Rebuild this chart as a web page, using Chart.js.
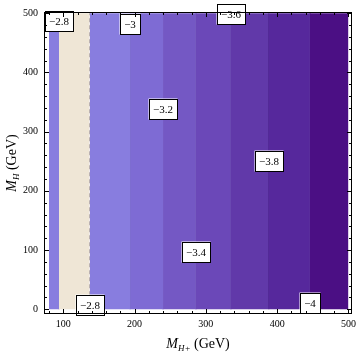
<!DOCTYPE html>
<html>
<head>
<meta charset="utf-8">
<script src="https://cdn.jsdelivr.net/npm/chart.js@4.4.1/dist/chart.umd.min.js"></script>
<style>
  html, body { margin: 0; padding: 0; background: #fff; }
  canvas { display: block; }
</style>
</head>
<body>
<canvas id="plot" width="360" height="353"></canvas>
<script>
/* ===============================
   DATA
   =============================== */
// band edges along M_H+ (GeV); the contours are vertical
const bandEdges = [80, 94, 137, 194, 240, 286, 335, 388, 446, 500];
// contour lines (M_H+ value) and their levels
const contourX = [94, 137, 194, 240, 286, 335, 388, 446];
const contourLevels = [-2.8, -2.8, -3, -3.2, -3.4, -3.6, -3.8, -4];
// where each level label sits (M_H+, M_H)
const labelText = ["\u22122.8", "\u22122.8", "\u22123", "\u22123.2", "\u22123.4", "\u22123.6", "\u22123.8", "\u22124"];
const labelX = [94, 137, 194, 240, 286, 335, 388, 446];
const labelY = [487, 7, 482, 339, 96, 499, 251, 10];
// M_H range
const mhMin = 0;
const mhMax = 500;
// axis ticks
const xTicks = [100, 200, 300, 400, 500];
const yTicks = [0, 100, 200, 300, 400, 500];
const minorStep = 20;

/* ===============================
   STYLES
   =============================== */
const bandColors = ["#887ddf", "#efe6d6", "#887ddf", "#7e6bd4", "#7458c4",
                    "#6b48b8", "#6139a9", "#56289c", "#4b0f84"];
const lineColors = ["#a39d9a", "#9a9490", "#6f60c4", "#6550b5",
                    "#5c40a6", "#533298", "#4a238c", "#3f0f75"];
const serif = "'Liberation Serif', 'DejaVu Serif', serif";

/* ===============================
   DATASETS
   =============================== */
const datasets = [];

bandColors.forEach((c, i) => {
  datasets.push({
    data: [{ x: bandEdges[i], y: mhMax }, { x: bandEdges[i + 1], y: mhMax }],
    fill: { value: mhMin },
    backgroundColor: c,
    borderWidth: 0,
    pointRadius: 0,
    tension: 0
  });
});

contourX.forEach((x, i) => {
  datasets.push({
    data: [{ x: x, y: mhMin }, { x: x, y: mhMax }],
    fill: false,
    borderColor: lineColors[i],
    borderWidth: 1.3,
    borderDash: i === 1 ? [4, 3] : [],
    pointRadius: 0
  });
});

/* ===============================
   FRAME, TICKS, LABELS
   =============================== */
const framePlugin = {
  id: "frame",
  afterDatasetsDraw(chart) {
    const ctx = chart.ctx;
    const a = chart.chartArea;
    const xs = chart.scales.x;
    const ys = chart.scales.y;

    // contour labels
    ctx.save();
    ctx.font = "11px " + serif;
    ctx.textAlign = "center";
    ctx.textBaseline = "middle";
    labelText.forEach((t, i) => {
      const px = Math.round(xs.getPixelForValue(labelX[i]));
      const py = Math.round(ys.getPixelForValue(labelY[i]));
      const w = Math.round(ctx.measureText(t).width) + 9;
      const h = 21;
      ctx.fillStyle = "#fff";
      ctx.fillRect(px - w / 2, py - h / 2, w, h);
      ctx.strokeStyle = "#000";
      ctx.lineWidth = 1;
      ctx.strokeRect(Math.round(px - w / 2) + 0.5, Math.round(py - h / 2) + 0.5, w - 1, h - 1);
      ctx.fillStyle = "#000";
      ctx.fillText(t, px, py + 1);
    });
    ctx.restore();

    // frame
    ctx.save();
    ctx.strokeStyle = "#000";
    ctx.lineWidth = 1;
    ctx.strokeRect(Math.round(a.left) + 0.5, Math.round(a.top) + 0.5,
                   Math.round(a.right - a.left) - 1, Math.round(a.bottom - a.top) - 1);

    // inward ticks on all four sides
    ctx.beginPath();
    for (let v = 80; v <= 500; v += minorStep) {
      const len = v % 100 === 0 ? 5 : 3;
      const px = Math.round(xs.getPixelForValue(v)) + 0.5;
      ctx.moveTo(px, a.bottom); ctx.lineTo(px, a.bottom - len);
      ctx.moveTo(px, a.top); ctx.lineTo(px, a.top + len);
    }
    for (let v = 0; v <= 500; v += minorStep) {
      const len = v % 100 === 0 ? 5 : 3;
      const py = Math.round(ys.getPixelForValue(v)) + 0.5;
      ctx.moveTo(a.left, py); ctx.lineTo(a.left + len, py);
      ctx.moveTo(a.right, py); ctx.lineTo(a.right - len, py);
    }
    ctx.stroke();
    ctx.restore();

    // axis titles with subscripts
    ctx.save();
    ctx.fillStyle = "#000";
    ctx.textBaseline = "alphabetic";
    const drawTitle = (parts) => {
      let total = 0;
      parts.forEach(p => { ctx.font = p.font; total += ctx.measureText(p.t).width; });
      let x = -total / 2;
      parts.forEach(p => {
        ctx.font = p.font;
        ctx.fillText(p.t, x, p.dy || 0);
        x += ctx.measureText(p.t).width;
      });
    };
    const cx = (a.left + a.right) / 2;
    const cy = (a.top + a.bottom) / 2;
    ctx.translate(cx, 348);
    drawTitle([
      { t: "M", font: "italic 14px " + serif },
      { t: "H+", font: "italic 9px " + serif, dy: 3 },
      { t: " (GeV)", font: "14px " + serif }
    ]);
    ctx.setTransform(1, 0, 0, 1, 0, 0);
    ctx.translate(16, cy);
    ctx.rotate(-Math.PI / 2);
    drawTitle([
      { t: "M", font: "italic 14px " + serif },
      { t: "H", font: "italic 9px " + serif, dy: 3 },
      { t: " (GeV)", font: "14px " + serif }
    ]);
    ctx.restore();
  }
};

/* ===============================
   CHART
   =============================== */
new Chart(document.getElementById("plot"), {
  type: "line",
  data: { datasets },
  options: {
    responsive: false,
    animation: false,
    layout: { padding: { left: 0, right: 5, top: 5, bottom: 0 } },
    plugins: {
      legend: { display: false },
      tooltip: { enabled: false }
    },
    scales: {
      x: {
        type: "linear",
        min: 73,
        max: 505,
        border: { display: false },
        grid: { display: false, drawTicks: false },
        afterBuildTicks: s => { s.ticks = xTicks.map(v => ({ value: v })); },
        afterFit: s => { s.height = 39; },
        ticks: {
          autoSkip: false,
          maxRotation: 0,
          padding: 4,
          color: "#000",
          font: { family: serif, size: 10 }
        }
      },
      y: {
        type: "linear",
        min: -8,
        max: 502,
        border: { display: false },
        grid: { display: false, drawTicks: false },
        afterBuildTicks: s => { s.ticks = yTicks.map(v => ({ value: v })); },
        afterFit: s => { s.width = 44; },
        ticks: {
          autoSkip: false,
          padding: 6,
          color: "#000",
          font: { family: serif, size: 10 }
        }
      }
    }
  },
  plugins: [framePlugin]
});
</script>
</body>
</html>
